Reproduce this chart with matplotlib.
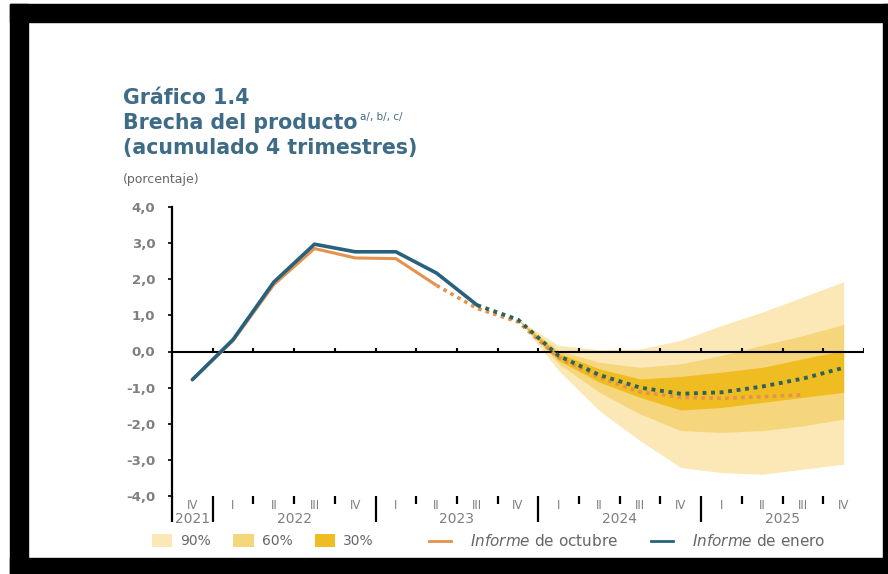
import matplotlib
matplotlib.use("Agg")
import matplotlib.pyplot as plt
from matplotlib.patches import Patch, Rectangle
from matplotlib.lines import Line2D

plt.rcParams['font.family'] = ['DejaVu Sans']
plt.rcParams['mathtext.fontset'] = 'dejavusans'

# quarters 2021 IV ... 2025 IV
quarters = ['IV', 'I', 'II', 'III', 'IV', 'I', 'II', 'III', 'IV',
            'I', 'II', 'III', 'IV', 'I', 'II', 'III', 'IV']
years = ['2021', '2022', '2023', '2024', '2025']
year_centers = [0, 2.5, 6.5, 10.5, 14.5]

# Informe de enero (blue): solid up to idx 7, projection afterwards
enero_hist_x = [0, 1, 2, 3, 4, 5, 6, 7]
enero_hist = [-0.78, 0.33, 1.92, 2.97, 2.76, 2.76, 2.17, 1.28]
enero_proj_x = [7, 8, 9, 10, 11, 12, 13, 14, 15, 16]
enero_proj = [1.28, 0.88, -0.12, -0.65, -1.0, -1.17, -1.13, -0.97, -0.75, -0.45]

# Informe de octubre (orange)
oct_hist_x = [0, 1, 2, 3, 4, 5, 6]
oct_hist = [-0.78, 0.30, 1.85, 2.85, 2.59, 2.57, 1.83]
oct_proj_x = [6, 7, 8, 9, 10, 11, 12, 13, 14, 15]
oct_proj = [1.83, 1.19, 0.82, -0.17, -0.72, -1.12, -1.27, -1.30, -1.25, -1.20]

# fan chart bands
fan_x = [8, 9, 10, 11, 12, 13, 14, 15, 16]
up90 = [0.88, 0.17, 0.05, 0.07, 0.31, 0.72, 1.09, 1.51, 1.93]
up60 = [0.88, 0.03, -0.30, -0.44, -0.34, -0.11, 0.17, 0.44, 0.75]
up30 = [0.88, -0.05, -0.48, -0.76, -0.69, -0.57, -0.44, -0.20, 0.03]
lo30 = [0.88, -0.25, -0.85, -1.27, -1.62, -1.55, -1.41, -1.27, -1.13]
lo60 = [0.88, -0.34, -1.13, -1.73, -2.19, -2.24, -2.19, -2.06, -1.87]
lo90 = [0.88, -0.53, -1.64, -2.47, -3.21, -3.35, -3.40, -3.26, -3.12]

c90, c60, c30 = '#fbe8b6', '#f6d67c', '#efbd22'
c_blue, c_orange = '#28617d', '#e5924f'
c_blue_dot = '#2f6358'
gray = '#7f7f7f'
title_col = '#3e6b86'

fig = plt.figure(figsize=(8.88, 5.74), dpi=100)
ax = fig.add_axes([172/888, 1-496/574, (864-172)/888, (496-207)/574])

ax.fill_between(fan_x, lo90, up90, color=c90, lw=0)
ax.fill_between(fan_x, lo60, up60, color=c60, lw=0)
ax.fill_between(fan_x, lo30, up30, color=c30, lw=0)

ax.axhline(0, color='black', lw=1.5, zorder=3)
ax.vlines([i + 0.5 for i in range(17)], 0, 0.09, color='black', lw=1.5, zorder=3)

ax.plot(oct_hist_x, oct_hist, color=c_orange, lw=2.2, solid_capstyle='butt', zorder=4)
ax.plot(enero_hist_x, enero_hist, color=c_blue, lw=2.6, solid_capstyle='round', zorder=5)
ax.plot(oct_proj_x, oct_proj, color=c_orange, lw=2.6, ls=(0, (1, 1.2)), zorder=4)
ax.plot(enero_proj_x, enero_proj, color=c_blue_dot, lw=2.8, ls=(0, (1, 1.2)), zorder=5)

ax.set_xlim(-0.5, 16.5)
ax.set_ylim(-4, 4)
for s in ['top', 'right', 'bottom']:
    ax.spines[s].set_visible(False)
ax.spines['left'].set_linewidth(1.6)

yt = [-4, -3, -2, -1, 0, 1, 2, 3, 4]
ax.set_yticks(yt)
ax.set_yticklabels([f"{v:.1f}".replace('.', ',') for v in yt],
                   fontsize=9.5, color=gray, fontweight='semibold')
ax.tick_params(axis='y', direction='out', length=3, width=1.2, pad=9)

ax.set_xticks([-0.5, 0.5, 4.5, 8.5, 12.5])
ax.set_xticks([1.5, 2.5, 3.5, 5.5, 6.5, 7.5, 9.5, 10.5, 11.5,
               13.5, 14.5, 15.5], minor=True)
ax.set_xticklabels([])
ax.tick_params(axis='x', which='major', direction='out', length=18.5, width=1.6)
ax.tick_params(axis='x', which='minor', direction='out', length=5.5, width=1.6)

for i, q in enumerate(quarters):
    ax.text(i, -4.27, q, ha='center', va='center', fontsize=8.5, color=gray,
            clip_on=False)
for xc, yr in zip(year_centers, years):
    ax.text(xc, -4.64, yr, ha='center', va='center', fontsize=10, color=gray,
            clip_on=False)

# titles
fig.text(123/888, 1-104/574, 'Gráfico 1.4', fontsize=14.8, color=title_col,
         fontweight='bold', va='baseline')
t2 = fig.text(123/888, 1-129/574, 'Brecha del producto', fontsize=14.8,
              color=title_col, fontweight='bold', va='baseline')
fig.text(123/888, 1-154/574, '(acumulado 4 trimestres)', fontsize=14.8,
         color=title_col, fontweight='bold', va='baseline')
fig.text(123/888, 1-180/574, '(porcentaje)', fontsize=9, color='#666666',
         va='center')
fig.canvas.draw()
bb = t2.get_window_extent()
fig.text((bb.x1 + 2)/888, 1-117/574, 'a/, b/, c/', fontsize=7.5,
         color=title_col, va='center')

leg1 = fig.legend([Patch(facecolor=c90), Patch(facecolor=c60), Patch(facecolor=c30)],
                  ['90%', '60%', '30%'], loc='center', ncol=3, frameon=False,
                  bbox_to_anchor=(263/888, 1-541/574), fontsize=10,
                  handlelength=1.45, handleheight=1.1, handletextpad=0.6,
                  columnspacing=1.6, labelcolor='#666666')
leg2 = fig.legend([Line2D([], [], color=c_orange, lw=2),
                   Line2D([], [], color=c_blue, lw=2)],
                  [r'$\mathit{Informe}$ de octubre', r'$\mathit{Informe}$ de enero'],
                  loc='center', ncol=2, frameon=False,
                  bbox_to_anchor=(627/888, 1-541/574), fontsize=11,
                  handlelength=1.45, handletextpad=1.2, columnspacing=2.2,
                  labelcolor='#666666')

# black frame around the picture
frame = [(10, 4, 878, 18), (10, 4, 18, 570), (883, 4, 5, 570), (10, 558, 878, 16)]
for x0, y0, w, h in frame:
    fig.patches.append(Rectangle((x0/888, 1-(y0+h)/574), w/888, h/574,
                                 transform=fig.transFigure, color='black',
                                 zorder=10))

fig.savefig('out.png', dpi=100)
